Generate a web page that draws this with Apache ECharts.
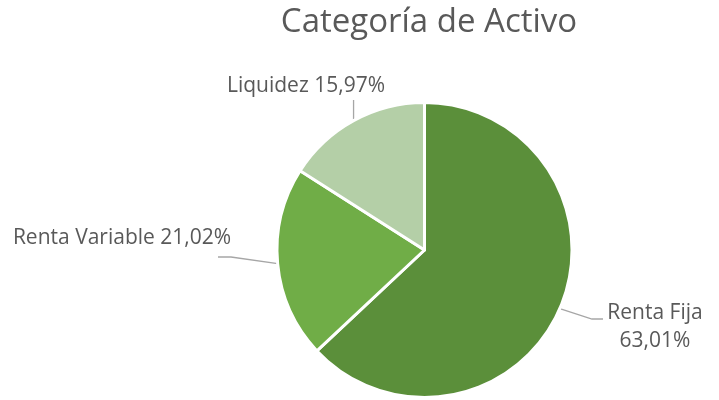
<!DOCTYPE html>
<html>
<head>
<meta charset="utf-8">
<script src="https://cdn.jsdelivr.net/npm/echarts@6/dist/echarts.min.js"></script>
<style>html,body{margin:0;padding:0;background:#fff}#c{width:719px;height:400px}</style>
</head>
<body>
<div id="c"></div>
<script>
const title = 'Categoría de Activo';
const categories = ['Renta Fija', 'Renta Variable', 'Liquidez'];
const values = [63.01, 21.02, 15.97];
const colors = ['#5B8F3A', '#70AD47', '#B4CFA7'];

function fmt(v) { return v.toFixed(2).replace('.', ',') + '%'; }

// label placement (layout only)
const labelPlace = [
  { x: 655, y: 327, line: (p) => [p, [592, 319], [603, 319]] },
  { x: 122, y: 238, line: (p) => [p, [231, 257], [218, 257]] },
  { x: 306, y: 86, line: (p) => [p, [p[0], 100]] }
];

const chart = echarts.init(document.getElementById('c'), null, { renderer: 'canvas' });
chart.setOption({
  animation: false,
  title: {
    text: title,
    left: 424,
    textAlign: 'center',
    top: 1,
    textStyle: { fontFamily: 'Open Sans', fontSize: 33, fontWeight: 'normal', color: '#595959' }
  },
  series: [{
    type: 'pie',
    center: [424.5, 250],
    radius: 147.5,
    startAngle: 90,
    clockwise: true,
    data: categories.map((c, i) => ({ name: c, value: values[i], itemStyle: { color: colors[i] } })),
    itemStyle: { borderColor: '#fff', borderWidth: 3 },
    label: {
      show: true,
      position: 'outside',
      fontFamily: 'Open Sans',
      fontSize: 21,
      lineHeight: 28,
      color: '#595959',
      formatter: (p) => p.dataIndex === 0 ? p.name + '\n' + fmt(p.value) : p.name + ' ' + fmt(p.value)
    },
    labelLine: { show: true, length: 20, length2: 10, lineStyle: { color: '#A6A6A6', width: 1.3 } },
    labelLayout: function (params) {
      const lp = labelPlace[params.dataIndex];
      const p0 = params.labelLinePoints ? params.labelLinePoints[0] : [0, 0];
      return { x: lp.x, y: lp.y, align: 'center', verticalAlign: 'middle', labelLinePoints: lp.line(p0) };
    },
    emphasis: { disabled: true }
  }]
});
</script>
</body>
</html>
